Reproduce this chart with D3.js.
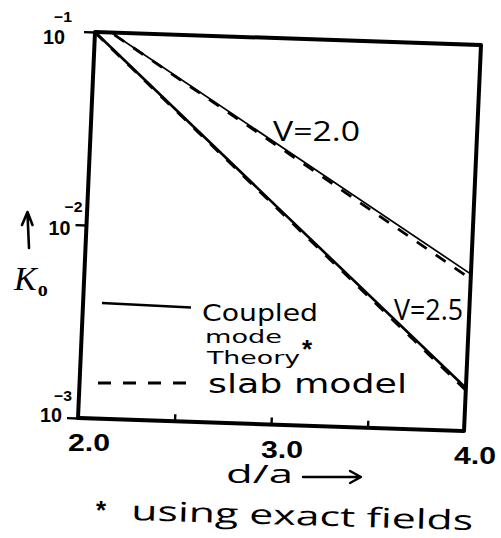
<!DOCTYPE html>
<html>
<head>
<meta charset="utf-8">
<script src="https://cdn.jsdelivr.net/npm/d3@7"></script>
<style>
  body { margin: 0; background: #fff; }
  svg { display: block; }
</style>
</head>
<body>
<svg id="chart" width="501" height="538"></svg>
<script>
// d/a values at which each curve is given
const ratios = [2.0, 3.0, 4.0];
// coupling coefficient K0 from coupled mode theory (exact fields)
const coupledV20 = [0.1127, 0.0271, 0.0065];
const coupledV25 = [0.1, 0.0129, 0.00167];
// coupling coefficient K0 from the slab model
const slabV20 = [0.1127, 0.0265, 0.00614];
const slabV25 = [0.0995, 0.0127, 0.00163];

const xTickValues = [2.5, 3.0, 3.5];
const xLabelValues = [2.0, 3.0, 4.0];
const xTickLabels = ["2.0", "3.0", "4.0"];
const yTickValues = [1e-1, 1e-2, 1e-3];
const yTickExponents = ["\u22121", "\u22122", "\u22123"];
const curveLabels = ["V=2.0", "V=2.5"];
const legendLabels = ["Coupled", "mode", "Theory", "slab model"];
const footnote = "using exact fields";

// ---- layout -------------------------------------------------------------
const W = 386, H = 386;
// the hand-ruled frame is slightly sheared: origin, x-direction, y-direction
const frame = { ox: 95, oy: 32, xu: 1, yu: 13 / 386, xv: -17 / 386, yv: 1 };
const place = (u, v) => [frame.ox + frame.xu * u + frame.xv * v,
                         frame.oy + frame.yu * u + frame.yv * v];

const svg = d3.select("#chart");
const ink = "#000";

const x = d3.scaleLinear().domain([2, 4]).range([0, W]);
const y = d3.scaleLog().domain([1e-3, 1e-1]).range([H, 0]);

const plot = svg.append("g")
  .attr("transform",
    `matrix(${frame.xu},${frame.yu},${frame.xv},${frame.yv},${frame.ox},${frame.oy})`);

plot.append("clipPath").attr("id", "plotClip")
  .append("rect").attr("x", 0).attr("y", 0).attr("width", W).attr("height", H);

// curves
const line = d3.line().x(d => x(d[0])).y(d => y(d[1]));
const series = [
  { values: coupledV20, width: 1.7, dash: null },
  { values: slabV20, width: 2.8, dash: "12,11" },
  { values: coupledV25, width: 2.6, dash: null },
  { values: slabV25, width: 3.0, dash: "12,11" }
];
const curves = plot.append("g").attr("clip-path", "url(#plotClip)");
series.forEach(s => {
  curves.append("path")
    .datum(ratios.map((r, i) => [r, s.values[i]]))
    .attr("d", line)
    .attr("fill", "none")
    .attr("stroke", ink)
    .attr("stroke-width", s.width)
    .attr("stroke-dasharray", s.dash)
    .attr("stroke-linecap", "butt");
});

// ticks
const xAxis = plot.append("g").attr("transform", `translate(0,${H})`)
  .call(d3.axisBottom(x).tickValues(xTickValues).tickSizeInner(-7).tickSizeOuter(0).tickFormat(""));
const yAxis = plot.append("g")
  .call(d3.axisLeft(y).tickValues(yTickValues).tickSizeInner(11).tickSizeOuter(0).tickFormat(""));
[xAxis, yAxis].forEach(a => {
  a.select(".domain").remove();
  a.selectAll(".tick line").attr("stroke", ink).attr("stroke-width", 2.4);
});

// frame
plot.append("rect")
  .attr("x", 0).attr("y", 0).attr("width", W).attr("height", H)
  .attr("fill", "none").attr("stroke", ink).attr("stroke-width", 4)
  .attr("stroke-linejoin", "round");

// x tick labels
xLabelValues.forEach((v, i) => {
  const [sx, sy] = place(x(v), H);
  svg.append("text")
    .attr("x", sx + 11).attr("y", sy + 33)
    .attr("text-anchor", "middle")
    .attr("font-family", "Liberation Sans, Arial, sans-serif")
    .attr("font-weight", "bold").attr("font-size", 23)
    .attr("textLength", 42).attr("lengthAdjust", "spacingAndGlyphs")
    .attr("fill", ink)
    .text(xTickLabels[i]);
});

// y tick labels: "10" with a raised exponent
const yBaseShift = [[-30, 12], [-16, 10], [-16, 4]];
const yExpShift = [[-23, -10], [-4, -13], [-6, -17]];
yTickValues.forEach((v, i) => {
  const [sx, sy] = place(0, y(v));
  svg.append("text")
    .attr("x", sx + yBaseShift[i][0]).attr("y", sy + yBaseShift[i][1])
    .attr("text-anchor", "end")
    .attr("font-family", "Liberation Sans, Arial, sans-serif")
    .attr("font-weight", "bold").attr("font-size", 20)
    .attr("textLength", 22).attr("lengthAdjust", "spacingAndGlyphs")
    .attr("fill", ink)
    .text("10");
  svg.append("text")
    .attr("x", sx + yExpShift[i][0]).attr("y", sy + yExpShift[i][1])
    .attr("text-anchor", "end")
    .attr("font-family", "Liberation Sans, Arial, sans-serif")
    .attr("font-weight", "bold").attr("font-size", 15)
    .attr("textLength", 18).attr("lengthAdjust", "spacingAndGlyphs")
    .attr("fill", ink)
    .text(yTickExponents[i]);
});

// y axis title: upward arrow and K0
svg.append("path")
  .attr("d", "M29,248 L27.5,214 M22,225 L27.5,212 L32.5,225")
  .attr("fill", "none").attr("stroke", ink).attr("stroke-width", 2.6)
  .attr("stroke-linecap", "round").attr("stroke-linejoin", "round");
const kLabel = svg.append("text")
  .attr("x", 14).attr("y", 290)
  .attr("font-family", "Liberation Serif, serif")
  .attr("font-style", "italic").attr("font-size", 34)
  .attr("fill", ink);
kLabel.append("tspan").text("K");
kLabel.append("tspan").attr("font-size", 20).attr("font-style", "normal")
  .attr("font-weight", "bold").attr("dx", 1).attr("dy", 6).text("o");

// x axis title with arrow
svg.append("text")
  .attr("x", 226).attr("y", 483)
  .attr("font-family", "Open Sans, sans-serif").attr("font-size", 25)
  .attr("textLength", 67).attr("lengthAdjust", "spacingAndGlyphs")
  .attr("fill", ink)
  .text("d/a");
svg.append("path")
  .attr("d", "M303,477 L359,477 M350,471 L361,477 L350,483")
  .attr("fill", "none").attr("stroke", ink).attr("stroke-width", 2.4)
  .attr("stroke-linecap", "round").attr("stroke-linejoin", "round");

// curve labels
const curveLabelPos = [[273, 141, 87, 28], [394, 320, 69, 29]];
curveLabels.forEach((t, i) => {
  const [lx, ly, len, fs] = curveLabelPos[i];
  svg.append("text")
    .attr("x", lx).attr("y", ly)
    .attr("font-family", "Open Sans, sans-serif").attr("font-size", fs)
    .attr("textLength", len).attr("lengthAdjust", "spacingAndGlyphs")
    .attr("fill", ink)
    .text(t);
});

// legend
svg.append("path").attr("d", "M102,303 L191,307.5")
  .attr("stroke", ink).attr("stroke-width", 2.6).attr("fill", "none");
svg.append("path").attr("d", "M98,383 L193,383")
  .attr("stroke", ink).attr("stroke-width", 3).attr("fill", "none")
  .attr("stroke-dasharray", "13,12");
const legendPos = [[202, 321, 116, 23], [205, 342.5, 77, 17], [207, 363.5, 93, 18], [208, 393, 199, 26]];
legendLabels.forEach((t, i) => {
  const [lx, ly, len, fs] = legendPos[i];
  svg.append("text")
    .attr("x", lx).attr("y", ly)
    .attr("font-family", "DejaVu Sans, sans-serif").attr("font-size", fs)
    .attr("textLength", len).attr("lengthAdjust", "spacingAndGlyphs")
    .attr("fill", ink)
    .text(t);
});
svg.append("text")
  .attr("x", 302).attr("y", 358)
  .attr("font-family", "Liberation Sans, Arial, sans-serif")
  .attr("font-weight", "bold").attr("font-size", 26).attr("fill", ink)
  .text("*");

// footnote
svg.append("text")
  .attr("x", 96).attr("y", 519)
  .attr("font-family", "Liberation Sans, Arial, sans-serif")
  .attr("font-weight", "bold").attr("font-size", 26).attr("fill", ink)
  .text("*");
svg.append("text")
  .attr("x", 131).attr("y", 520)
  .attr("transform", "rotate(1.7,131,520)")
  .attr("font-family", "Open Sans, sans-serif").attr("font-size", 27)
  .attr("textLength", 342).attr("lengthAdjust", "spacingAndGlyphs")
  .attr("fill", ink)
  .text(footnote);
</script>
</body>
</html>
